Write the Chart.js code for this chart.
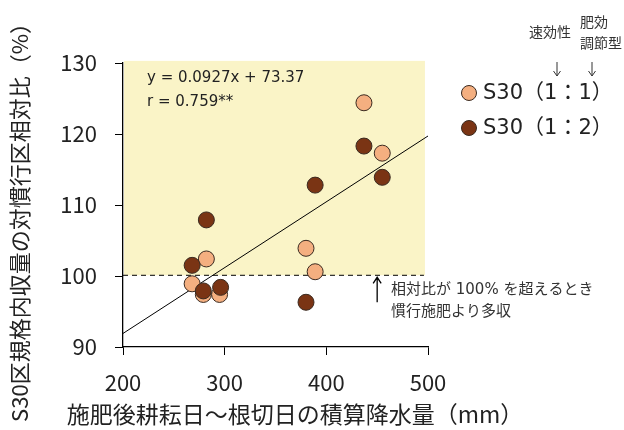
<!DOCTYPE html>
<html>
<head>
<meta charset="utf-8">
<script src="https://cdn.jsdelivr.net/npm/chart.js@4"></script>
<style>
  html, body { margin: 0; padding: 0; background: #fff; }
  #wrap { width: 624px; height: 430px; }
</style>
</head>
<body>
<div id="wrap"><canvas id="chart" width="624" height="430"></canvas></div>
<script>
// rainfall (mm) vs relative yield (%)
const rain11 = [437, 455, 380, 389, 282, 268, 279, 295];
const yield11 = [124.4, 117.3, 103.9, 100.6, 102.4, 98.9, 97.4, 97.4];
const rain12 = [437, 455, 389, 282, 268, 279, 296, 380];
const yield12 = [118.3, 113.9, 112.8, 107.9, 101.5, 97.9, 98.4, 96.3];

const seriesNames = ["S30（1：1）", "S30（1：2）"];
const seriesColors = ["#F4AF80", "#7A3414"];
const xTicks = [200, 300, 400, 500];
const yTicks = [90, 100, 110, 120, 130];
const xTitle = "施肥後耕耘日～根切日の積算降水量（mm）";
const yTitle = "S30区規格内収量の対慣行区相対比（%）";

const slope = 0.0927, intercept = 73.37;
const fitX = [200, 500];
const fitLabel = ["y = 0.0927x + 73.37", "r = 0.759**"];

const jp = "'Noto Sans CJK JP', sans-serif";
const verd = "'DejaVu Sans', 'Noto Sans CJK JP', sans-serif";

const pts = (xs, ys) => xs.map((x, i) => ({ x: x, y: ys[i] }));

const decor = {
    id: "decor",
    beforeDatasetsDraw(c) {
        const ctx = c.ctx, x = c.scales.x, y = c.scales.y;
        const l = x.getPixelForValue(200), r = x.getPixelForValue(496);
        const top = y.getPixelForValue(130.3), base = y.getPixelForValue(100.1);
        ctx.save();
        ctx.fillStyle = "#FAF4C7";
        ctx.fillRect(l + 1, top, r - l, base - top);
        ctx.strokeStyle = "#000";
        ctx.lineWidth = 1;
        ctx.setLineDash([5, 4]);
        ctx.beginPath();
        ctx.moveTo(l, base);
        ctx.lineTo(r, base);
        ctx.stroke();
        ctx.restore();
    },
    afterDraw(c) {
        const ctx = c.ctx, x = c.scales.x, y = c.scales.y;
        ctx.save();
        ctx.textBaseline = "middle";

        // axis titles
        ctx.fillStyle = "#222";
        ctx.font = "23px " + jp;
        ctx.textAlign = "center";
        ctx.fillText(xTitle, 295, 414);
        ctx.save();
        ctx.translate(20, 217);
        ctx.rotate(-Math.PI / 2);
        ctx.font = "22px " + jp;
        ctx.fillText(yTitle, 0, 0);
        ctx.restore();
        ctx.textAlign = "left";

        ctx.font = "15px " + verd;
        ctx.fillText(fitLabel[0], 147, 78);
        ctx.fillText(fitLabel[1], 147, 102);

        // arrow pointing at the 100% line
        const ax = x.getPixelForValue(450);
        const base = y.getPixelForValue(100.1);
        ctx.strokeStyle = "#000";
        ctx.lineWidth = 1.3;
        ctx.beginPath();
        ctx.moveTo(ax, base + 27);
        ctx.lineTo(ax, base + 2);
        ctx.moveTo(ax - 4, base + 8);
        ctx.lineTo(ax, base + 2);
        ctx.lineTo(ax + 4, base + 8);
        ctx.stroke();
        ctx.font = "15px " + verd;
        ctx.fillStyle = "#333";
        ctx.fillText("相対比が 100% を超えるとき", 391, 290);
        ctx.fillText("慣行施肥より多収", 391, 312);

        // legend
        ctx.font = "21px " + verd;
        seriesNames.forEach((n, i) => {
            const cy = 93 + i * 35;
            ctx.beginPath();
            ctx.arc(469, cy, 7.5, 0, Math.PI * 2);
            ctx.fillStyle = seriesColors[i];
            ctx.fill();
            ctx.strokeStyle = "#3a2a20";
            ctx.lineWidth = 1;
            ctx.stroke();
            ctx.fillStyle = "#222";
            ctx.fillText(n, 483, cy + 1);
        });

        // labels above legend
        ctx.font = "14px " + jp;
        ctx.fillStyle = "#333";
        ctx.fillText("速効性", 529, 32);
        ctx.fillText("肥効", 580, 22);
        ctx.fillText("調節型", 580, 43);
        ctx.strokeStyle = "#333";
        ctx.lineWidth = 1;
        [557, 592].forEach(px => {
            ctx.beginPath();
            ctx.moveTo(px, 62);
            ctx.lineTo(px, 76);
            ctx.moveTo(px - 3.5, 71);
            ctx.lineTo(px, 76);
            ctx.lineTo(px + 3.5, 71);
            ctx.stroke();
        });
        ctx.restore();
    }
};

new Chart(document.getElementById("chart"), {
    type: "scatter",
    data: {
        datasets: [
            {
                type: "line",
                label: "fit",
                data: fitX.map(v => ({ x: v, y: slope * v + intercept })),
                borderColor: "#000",
                borderWidth: 1,
                pointRadius: 0,
                fill: false,
                order: 3
            },
            {
                label: seriesNames[0],
                data: pts(rain11, yield11),
                backgroundColor: seriesColors[0],
                borderColor: "#3a2a20",
                borderWidth: 1,
                pointRadius: 8,
                order: 2
            },
            {
                label: seriesNames[1],
                data: pts(rain12, yield12),
                backgroundColor: seriesColors[1],
                borderColor: "#3a2a20",
                borderWidth: 1,
                pointRadius: 8,
                order: 1
            }
        ]
    },
    options: {
        responsive: false,
        animation: false,
        layout: { padding: { left: 0, right: 196, top: 63, bottom: 0 } },
        plugins: { legend: { display: false }, tooltip: { enabled: false } },
        scales: {
            x: {
                type: "linear",
                min: 200, max: 500,
                afterBuildTicks: s => { s.ticks = xTicks.map(v => ({ value: v })); },
                afterFit: s => { s.height = 430 - 63 - 284; },
                ticks: { color: "#222", font: { size: 22, family: jp }, padding: 14 },
                grid: { drawOnChartArea: false, tickLength: 8, color: "#000" },
                border: { color: "#000", width: 1.3 },
                title: { display: false }
            },
            y: {
                min: 90, max: 130,
                afterBuildTicks: s => { s.ticks = yTicks.map(v => ({ value: v })); },
                afterFit: s => { s.width = 123; },
                ticks: { color: "#222", font: { size: 22, family: jp }, padding: 18 },
                grid: { drawOnChartArea: false, tickLength: 8, color: "#000" },
                border: { color: "#000", width: 1.3 },
                title: { display: false }
            }
        }
    },
    plugins: [decor]
});
</script>
</body>
</html>
